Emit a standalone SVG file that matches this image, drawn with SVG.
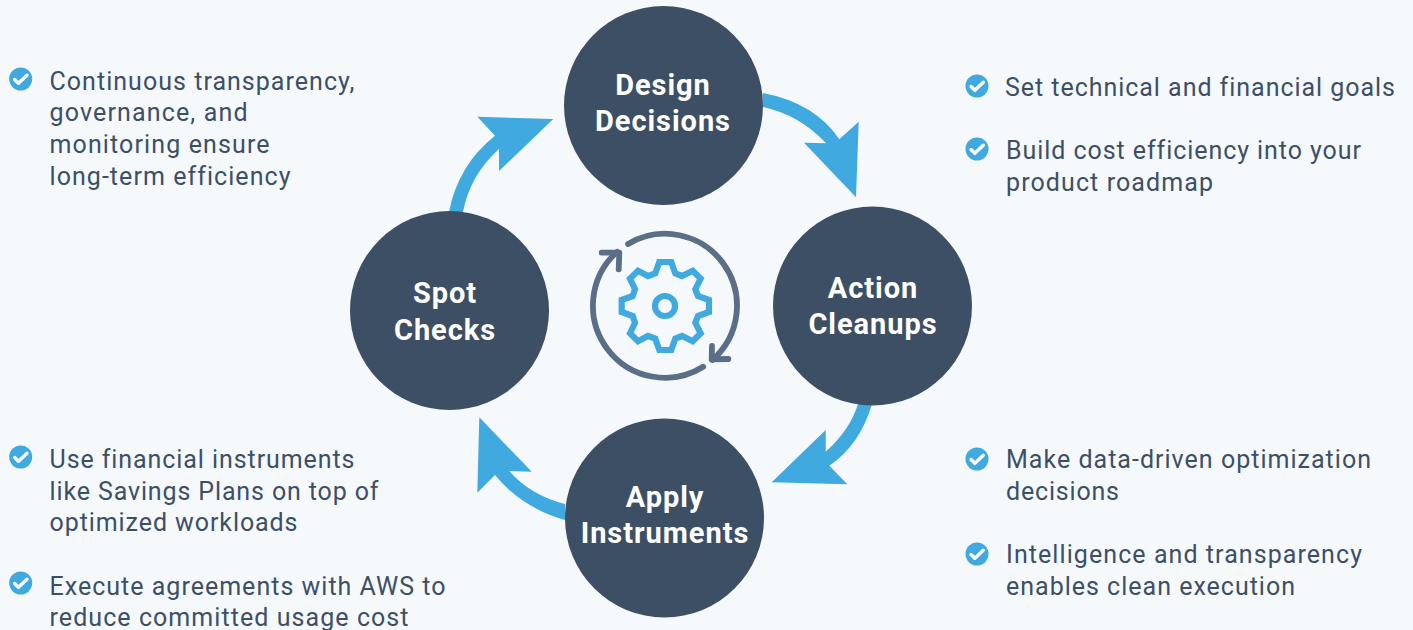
<svg xmlns="http://www.w3.org/2000/svg" width="1413" height="630" viewBox="0 0 1413 630">
<style>
.bg{fill:#f5f9fc}
.node{fill:#3d4f65}
.arrow{fill:#3fa9e0}
.title{font:700 29px Roboto,"Liberation Sans",sans-serif;fill:#fff;text-anchor:middle;letter-spacing:.95px}
.body{font:400 25px Roboto,"Liberation Sans",sans-serif;fill:#3d4f66;letter-spacing:1px}
.dot{fill:#3fa9e0}
.tick{fill:none;stroke:#fff;stroke-width:3.4;stroke-linecap:round;stroke-linejoin:round}
.ring{fill:none;stroke:#5a6e87;stroke-width:5.8;stroke-linecap:round;stroke-linejoin:round}
.gear{fill:none;stroke:#3fa9e0;stroke-width:6.2}
</style>
<defs>
<g id="check"><circle class="dot" r="11.5"/><path class="tick" d="M-6 0.5L-2.2 4.3L6.3-3.8"/></g>
</defs>
<rect class="bg" width="1413" height="630"/>
<g id="connectors">
<path class="arrow" d="M763 93Q815 103 839.3 139.3L858.7 121.7L856 197.3L804 142.7L826 143.3Q800 115 763 107Z"/>
<path class="arrow" d="M858 404Q850 430 825.7 451.7L825.7 430L771.7 482.3L847.3 484.3L829.3 465.7Q860 445 872 404Z"/>
<path class="arrow" d="M565 504Q530 495 509.3 471L531.7 471.7L479.3 417.3L477.3 492.7L495 475Q522 508 565 520Z"/>
<path class="arrow" d="M449 212Q458 165 495 135.7L477.3 116.7L553.3 119L499 171L499 149Q470 175 463 212Z"/>
</g>
<g id="node-design"><circle class="node" cx="663.5" cy="105.5" r="99.5"/><text class="title" x="663" y="95">Design</text><text class="title" x="663" y="131">Decisions</text></g>
<g id="node-action"><circle class="node" cx="872.5" cy="306" r="99.5"/><text class="title" x="873" y="298">Action</text><text class="title" x="873" y="334">Cleanups</text></g>
<g id="node-apply"><circle class="node" cx="664.5" cy="518" r="99.5"/><text class="title" x="665" y="507">Apply</text><text class="title" x="665" y="543">Instruments</text></g>
<g id="node-spot"><circle class="node" cx="449.5" cy="310.5" r="99.5"/><text class="title" x="445" y="303">Spot</text><text class="title" x="445" y="340">Checks</text></g>
<g id="center-icon">
<path class="ring" d="M628.1 243.9A72 72 0 0 1 712.3 360"/>
<path class="ring" d="M703.2 366.7A72 72 0 0 1 617.1 251.9"/>
<path class="ring" d="M712 346L711.7 359.3L728.3 359"/>
<path class="ring" d="M601.7 252.7L619.3 252.7L618.7 269.3"/>
<path class="gear" d="M659.3 262H671.3L675.3 273.3L682 276L692.7 270.7L700.7 278.7L695.3 289.3L698 296L709 300V312L698 316L695.3 322.7L700.7 333.3L692.7 341.3L682 336L675.3 338.7L671.3 350H659.3L655.3 338.7L648 336L638 341.3L630 333.3L635 322.7L632.7 316L621.7 312V300L632.7 296L635 289.3L630 278.7L638 270.7L648 276L655.3 273.3Z"/>
<circle class="gear" cx="665" cy="306" r="10"/>
</g>
<g id="note-tl"><use href="#check" x="20.7" y="79"/>
<text class="body" x="49.5" y="90" textLength="306">Continuous transparency,</text><text class="body" x="49.5" y="121" textLength="199">governance, and</text><text class="body" x="49.5" y="153" textLength="221">monitoring ensure</text><text class="body" x="49.5" y="185" textLength="242">long-term efficiency</text></g>
<g id="note-tr"><use href="#check" x="977" y="86"/><text class="body" x="1005" y="96" textLength="391">Set technical and financial goals</text>
<use href="#check" x="977" y="149"/><text class="body" x="1006" y="159" textLength="356">Build cost efficiency into your</text><text class="body" x="1006" y="191" textLength="208">product roadmap</text></g>
<g id="note-bl"><use href="#check" x="20.7" y="457"/><text class="body" x="49.5" y="468" textLength="306">Use financial instruments</text><text class="body" x="49.5" y="500" textLength="330">like Savings Plans on top of</text><text class="body" x="49.5" y="531" textLength="249">optimized workloads</text>
<use href="#check" x="20.7" y="583"/><text class="body" x="49.5" y="595" textLength="397">Execute agreements with AWS to</text><text class="body" x="49.5" y="626" textLength="360">reduce committed usage cost</text></g>
<g id="note-br"><use href="#check" x="977" y="459"/><text class="body" x="1006" y="468" textLength="366">Make data-driven optimization</text><text class="body" x="1006" y="500" textLength="114">decisions</text>
<use href="#check" x="977" y="554"/><text class="body" x="1006" y="563" textLength="357">Intelligence and transparency</text><text class="body" x="1006" y="595" textLength="290">enables clean execution</text></g>
</svg>
